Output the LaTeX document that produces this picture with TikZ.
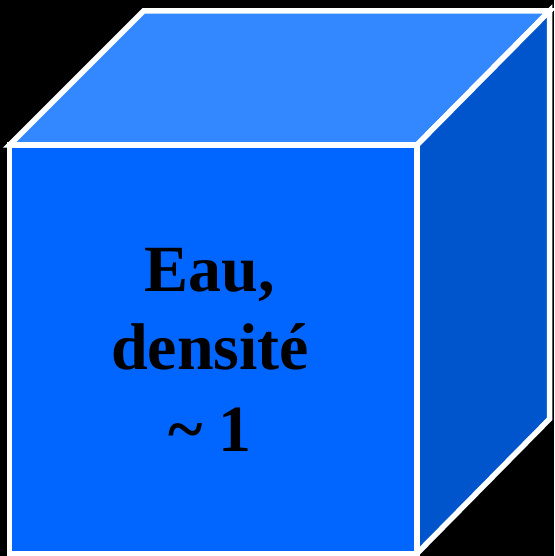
\documentclass[tikz,border=0pt]{standalone}
\usepackage{fontspec}
\setmainfont{Liberation Serif}
\definecolor{frontblue}{HTML}{0066FF}
\definecolor{topblue}{HTML}{3388FF}
\definecolor{sideblue}{HTML}{0055CC}
\tikzset{
  face/.style={draw=white, line width=5.5pt, line join=miter},
  label/.style={anchor=base, inner sep=0pt, font=\fontsize{66}{80}\selectfont\bfseries, text=black}
}
\begin{document}
\begin{tikzpicture}[x=1pt,y=1pt]
\useasboundingbox (0,0) rectangle (554,556);
\fill[black] (0,0) rectangle (554,556);
\begin{scope}
\clip (0,0) rectangle (554,556);
\coordinate (A) at (9.5,411);
\coordinate (B) at (417,411);
\coordinate (C) at (417,2.5);
\coordinate (D) at (9.5,2.5);
\coordinate (E) at (143.5,545);
\coordinate (F) at (549.5,545);
\coordinate (G) at (549.5,137);
\filldraw[face, fill=topblue] (A) -- (E) -- (F) -- (B) -- cycle;
\filldraw[face, fill=sideblue] (B) -- (F) -- (G) -- (C) -- cycle;
\filldraw[face, fill=frontblue] (A) -- (B) -- (C) -- (D) -- cycle;
\end{scope}
\node[label] (l1) at (210,264) {Eau,};
\node[label] (l2) at (210,186) {densité};
\node[label] (l3) at (210,104) {\textasciitilde{} 1};
\end{tikzpicture}
\end{document}
